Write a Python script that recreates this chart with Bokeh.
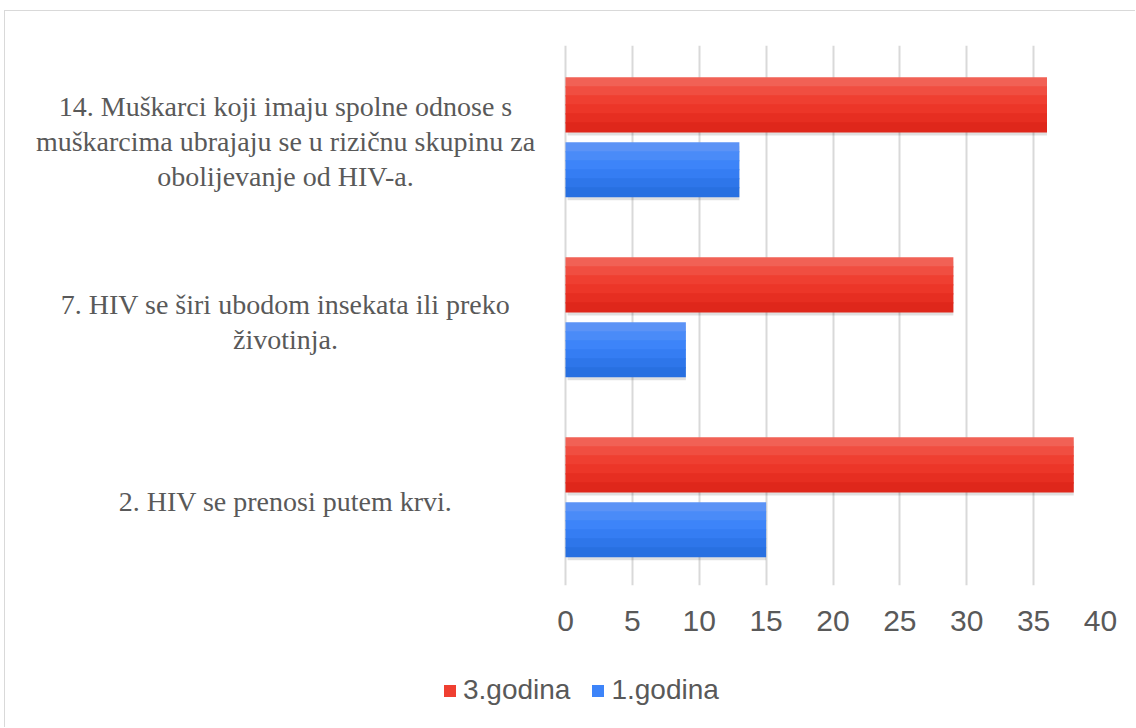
from bokeh.plotting import figure
from bokeh.models import (ColumnDataSource, Range1d, FixedTicker, Label,
                          Legend, LegendItem)
from bokeh.layouts import column
from bokeh.transform import dodge
from bokeh.embed import file_html
from bokeh.resources import INLINE

# Survey statements (bottom to top) and number of correct answers per year group
statements = [
    ["2. HIV se prenosi putem krvi."],
    ["7. HIV se širi ubodom insekata ili preko", "životinja."],
    ["14. Muškarci koji imaju spolne odnose s",
     "muškarcima ubrajaju se u rizičnu skupinu za",
     "obolijevanje od HIV-a."],
]
godina3 = [38, 29, 36]
godina1 = [15, 9, 13]
series_names = ["3.godina", "1.godina"]
x_ticks = [0, 5, 10, 15, 20, 25, 30, 35, 40]

pos = [i + 0.5 for i in range(len(statements))]
src = ColumnDataSource(dict(y=pos, g3=godina3, g1=godina1))

TEXT = "#595959"
W = 1130
H_MAIN, H_LEG = 642, 74
LABEL_W = 560          # room kept left of the value axis for the statements
AXIS_W = 535           # pixel length of the 0..40 value axis
XMAX = 40
x_lo = -LABEL_W * XMAX / AXIS_W

p = figure(width=W, height=H_MAIN, x_range=Range1d(x_lo, XMAX),
           y_range=Range1d(0, len(statements)),
           output_backend="svg", toolbar_location=None,
           min_border_left=0, min_border_right=W - LABEL_W - AXIS_W,
           min_border_top=34, min_border_bottom=68)
p.outline_line_color = None
p.background_fill_color = "white"
p.border_fill_color = "white"

p.xgrid.grid_line_color = "#d9d9d9"
p.xgrid.grid_line_width = 2
p.ygrid.grid_line_color = None
p.xaxis.ticker = FixedTicker(ticks=x_ticks)
p.xaxis.axis_line_color = None
p.xaxis.major_tick_line_color = None
p.xaxis.minor_tick_line_color = None
p.xaxis.major_label_standoff = 19
p.xaxis.major_label_text_font = "Liberation Sans"
p.xaxis.major_label_text_font_size = "30px"
p.xaxis.major_label_text_color = TEXT
p.yaxis.visible = False

# bars with a soft shadow and a vertical shading, built from thin strips
BAR_H = 0.3
N = 6
shades = {
    "g3": ["#f16155", "#f04e41", "#ef3f31", "#ec3628", "#e62e21", "#df271b"],
    "g1": ["#5c93f6", "#4a8bf8", "#3d84f9", "#357df3", "#2e76ea", "#2870e1"],
}
offsets = {"g3": 0.17, "g1": -0.19}
for key in ["g3", "g1"]:
    p.hbar(y=dodge("y", offsets[key] - 0.02, range=p.y_range), right=key,
           left=0.15, height=BAR_H, source=src, fill_color="#000000",
           fill_alpha=0.12, line_color=None)
    for k in range(N):
        off = offsets[key] + BAR_H / 2 - (k + 0.5) * BAR_H / N
        p.hbar(y=dodge("y", off, range=p.y_range), right=key, left=0,
               height=BAR_H / N + 0.006, source=src,
               fill_color=shades[key][k], line_color=None)

# statements, centred to the left of the bars
LINE = 35
for y, lines in zip(pos, statements):
    n = len(lines)
    for i, t in enumerate(lines):
        dy = (n - 1) / 2 * LINE - i * LINE - 6
        p.add_layout(Label(x=280, x_units="screen", y=y, y_offset=dy,
                           text=t, text_align="center",
                           text_baseline="middle",
                           text_font="Liberation Serif",
                           text_font_size="28px", text_color=TEXT))

# legend strip under the chart; its swatch renderers sit outside the visible range
leg = figure(width=W, height=H_LEG, output_backend="svg",
             toolbar_location=None, min_border=0,
             x_range=Range1d(0, 1), y_range=Range1d(0, 1))
leg.axis.visible = False
leg.grid.visible = False
leg.outline_line_color = None
swatch = ColumnDataSource(dict(y=[-10], right=[0]))
r3 = leg.hbar(y="y", right="right", height=1, source=swatch,
              fill_color=shades["g3"][2], line_color=None)
r1 = leg.hbar(y="y", right="right", height=1, source=swatch,
              fill_color=shades["g1"][2], line_color=None)
legend = Legend(items=[LegendItem(label=series_names[0], renderers=[r3]),
                       LegendItem(label=series_names[1], renderers=[r1])],
                orientation="horizontal", location=(437, 21),
                padding=0, margin=0, spacing=20, label_standoff=6,
                glyph_width=15, glyph_height=15,
                label_text_font="Liberation Sans", label_text_font_size="28px",
                label_text_color=TEXT, border_line_color=None,
                background_fill_alpha=0)
leg.add_layout(legend, "center")

page = column(p, leg, spacing=0)
page.styles = {"margin-left": "4px", "margin-top": "10px",
               "border-left": "1px solid #d9d9d9",
               "border-top": "1px solid #d9d9d9"}

open("out.html", "w").write(file_html(page, INLINE))
